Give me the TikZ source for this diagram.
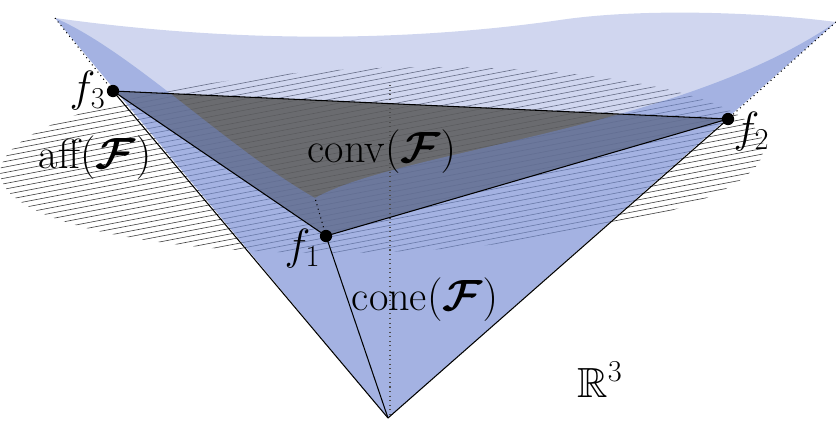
\documentclass[tikz,border=0pt]{standalone}
\usepackage{amsmath,amssymb,bm}
\usetikzlibrary{positioning}

\definecolor{backblue}{RGB}{150,165,220}
\definecolor{frontblue}{RGB}{110,135,210}

\tikzset{
    pt/.style={circle,fill=black,inner sep=0pt,minimum size=7pt},
    lab/.style={font=\fontsize{24}{28}\selectfont},
    edge/.style={black,line width=0.6pt},
    hid/.style={black,dotted,line width=0.6pt}
}

\begin{document}
\begin{tikzpicture}[x=0.02cm,y=-0.02cm]
        \useasboundingbox (0,0) rectangle (836,420);

        \coordinate (A) at (388,418);
        \coordinate (T1) at (55,18);
        \coordinate (T2) at (836,22);
        \coordinate (cusp) at (315,198);
        \coordinate (f3) at (113,91);
        \coordinate (f2) at (728,119);
        \coordinate (f1) at (326,236);

        % affine hull
        \begin{scope}
            \clip[rotate around={2:(382,160)}] (382,160) ellipse [x radius=382, y radius=92];
            \foreach \i in {0,...,70}
                \draw[black!75,line width=0.35pt] (0,80+5.5*\i) -- (836,80+5.5*\i-160);
        \end{scope}

        % cone, back
        \fill[backblue,opacity=0.45] (T1) .. controls (250,45) and (420,40) .. (560,20)
            .. controls (640,8) and (760,12) .. (T2) -- (A) -- cycle;
        % convex hull
        \fill[black!65,opacity=0.85] (f3) -- (f2) -- (f1) -- cycle;
        % cone, front
        \fill[frontblue,opacity=0.45] (T1) .. controls (130,50) and (230,150) .. (cusp)
            .. controls (400,150) and (680,130) .. (T2) -- (A) -- cycle;

        \draw[hid] (T1) -- (f3);
        \draw[hid] (T2) -- (f2);
        \draw[hid] (f1) -- (cusp);
        \draw[hid,black!70] (390,85) -- (390,418);
        \draw[edge] (f3) -- (A);
        \draw[edge] (f2) -- (A);
        \draw[edge] (f1) -- (A);
        \draw[edge] (f3) -- (f2) -- (f1) -- cycle;

        \node[pt] (p3) at (f3) {};
        \node[pt] (p2) at (f2) {};
        \node[pt] (p1) at (f1) {};
        \node[lab,left=-3pt of p3] (l3) {$f_3$};
        \node[lab,below right=-10pt and -3pt of p2] (l2) {$f_2$};
        \node[lab,below left=-10pt and -3pt of p1] (l1) {$f_1$};
        \node[lab] (aff) at (95,158) {aff$(\bm{\mathcal{F}})$};
        \node[lab] (conv) at (382,152) {conv$(\bm{\mathcal{F}})$};
        \node[lab] (cone) at (425,300) {cone$(\bm{\mathcal{F}})$};
        \node[lab] (R) at (600,380) {$\mathbb{R}^3$};
    \end{tikzpicture}
\end{document}
